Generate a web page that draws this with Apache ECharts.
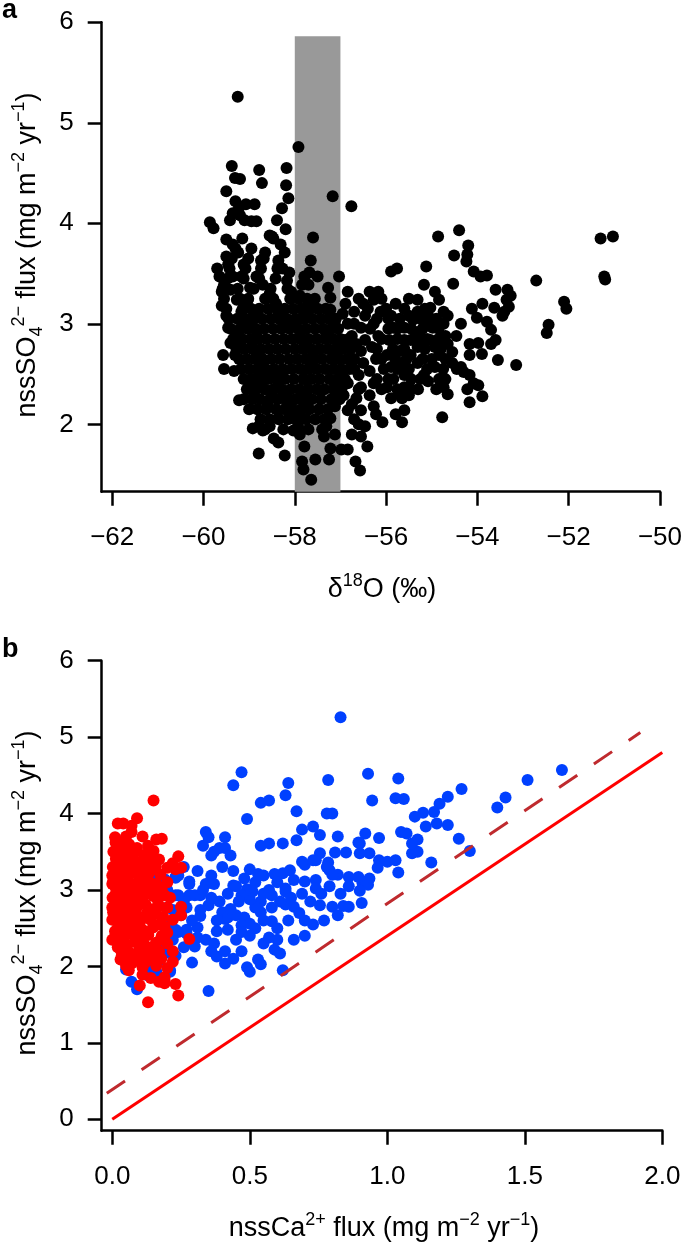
<!DOCTYPE html>
<html>
<head>
<meta charset="utf-8">
<script src="https://cdn.jsdelivr.net/npm/echarts@6/dist/echarts.min.js"></script>
<style>
  html, body { margin: 0; padding: 0; background: #fff; }
  #c { width: 685px; height: 1245px; }
</style>
</head>
<body>
<div id="c"></div>
<script>
// ---------------- DATA ----------------
// Panel a: delta18O (permil) vs nssSO4 flux
const aPoints = [
  [-59.25,5.26],[-57.92,4.76],[-57.17,4.27],[-56.76,4.17],[-57.6,3.86],
  [-59.86,4.01],[-59.78,3.95],[-59.38,4.57],[-59.31,4.45],[-59.2,4.44],[-59.5,4.32],
  [-58.78,4.53],[-58.72,4.40],[-58.18,4.55],[-58.19,4.38],[-58.14,4.25],
  [-58.28,4.15],[-58.39,4.03],[-58.2,3.94],
  [-59.3,4.22],[-59.22,4.16],[-59.07,4.19],[-59.2,4.08],[-59.1,4.03],[-58.88,4.19],[-58.84,4.02],[-58.95,4.02],
  [-59.36,4.1],[-59.42,4.03],[-58.55,3.88],[-58.47,3.85],[-59.5,3.84],[-59.15,3.85],
  // right branch
  [-54.86,3.87],[-54.4,3.93],[-54.2,3.78],[-54.22,3.69],[-54.24,3.62],[-54.51,3.68],
  [-51.3,3.85],[-51.03,3.87],[-51.22,3.47],[-51.2,3.44],[-52.71,3.43],[-52.1,3.22],[-52.05,3.15],
  [-52.44,2.99],[-52.48,2.91],[-53.15,2.59],[-53.55,2.64],[-53.89,2.28],[-54.17,2.22],[-54.77,2.07],
  [-55.89,3.52],[-55.76,3.55],[-55.12,3.57],[-55.17,3.39],[-55.31,3.24],[-54.53,3.40],
  [-54.08,3.52],[-53.93,3.47],[-53.79,3.48],[-53.6,3.34],[-53.34,3.34],[-53.27,3.28],[-53.36,3.24],
  [-53.89,3.2],[-53.63,3.16],[-53.41,3.12],[-53.31,3.17],[-54.12,3.15],[-53.45,3.08],
  [-54.01,3.06],[-53.79,3.02],[-53.7,2.94],[-53.6,2.84],[-53.7,2.8],[-53.9,2.7],[-53.98,2.81],
  [-54.17,2.8],[-54.17,2.69],[-54.36,3.0],[-54.46,2.88],
  [-54.55,2.61],[-54.36,2.57],[-54.17,2.49],[-54.08,2.41],[-53.98,2.39],[-54.22,2.35],[-54.3,2.52],[-54.45,2.55],
  [-54.93,3.32],[-54.84,3.24],[-54.74,3.12],[-54.65,3.08],[-54.74,3.0],[-54.7,2.88],[-54.65,2.8],[-54.55,2.72],
  [-55.03,3.16],[-55.08,3.08],[-54.98,2.96],[-55.03,2.84],[-54.93,2.77],[-54.84,2.69],[-54.93,2.57],
  [-54.84,2.45],[-54.74,2.37],[-54.65,2.3],
  [-55.31,3.12],[-55.41,3.04],[-55.36,2.92],[-55.46,2.84],[-55.31,2.77],[-55.46,2.69],[-55.31,2.61],
  [-55.17,2.49],[-55.08,2.43],[-55.2,3.08],[-55.1,3.02],[-55.2,2.95],[-55.3,2.9],
  [-55.5,3.08],[-55.6,2.96],[-55.6,2.84],[-55.7,2.73],[-55.65,2.61],[-55.6,2.49],[-55.6,2.37],
  [-55.5,2.29],[-55.65,2.26],[-55.6,2.14],[-55.65,2.02],[-55.45,2.35],[-55.72,2.3],
  [-55.79,3.2],[-55.89,3.08],[-55.84,2.96],[-55.93,2.84],[-55.98,2.69],[-55.89,2.57],[-55.84,2.45],
  [-55.98,2.37],[-55.89,2.26],[-55.79,2.1],[-56.08,2.02],
  [-56.17,3.32],[-56.27,3.24],[-56.12,3.12],[-56.27,3.0],[-56.17,2.88],[-56.31,2.77],[-56.22,2.65],
  [-56.36,2.53],[-56.27,2.41],[-56.36,2.29],[-56.27,2.18],[-56.22,2.1],
  [-56.36,3.32],[-56.5,3.2],[-56.46,3.08],[-56.55,2.96],[-56.46,2.84],[-56.55,2.73],[-56.5,2.61],
  [-56.6,2.49],[-56.55,2.37],[-56.65,2.26],[-56.55,2.14],[-56.46,1.98],[-56.41,1.78],
  [-56.6,2.0],[-56.55,1.88],[-56.67,1.63],[-56.57,1.54],
  [-56.84,3.32],[-56.89,3.2],[-56.7,3.12],[-56.84,3.0],[-56.75,2.88],[-56.89,2.77],[-56.79,2.65],
  [-56.93,2.53],[-56.84,2.41],[-56.93,2.29],[-56.84,2.14],[-56.75,1.9],[-56.84,1.75],[-56.98,1.75],[-57.12,1.9],
  [-56.93,2.84],[-57.03,2.77],[-57.12,2.65],[-57.03,2.53],[-57.12,2.41],[-57.03,2.29],[-57.12,2.18],
  [-57.22,2.06],[-57.31,1.98],[-57.36,1.88],[-57.22,1.76],[-57.25,1.65],
  [-57.03,3.47],[-57.27,3.36],[-57.22,3.26],[-57.12,3.03],[-57.31,2.88],[-57.22,3.14],
  [-57.55,1.65],[-57.84,1.63],[-57.81,1.55],[-57.64,1.45],
  [-57.65,3.63],[-57.68,3.51],[-57.79,3.47],
  // extra right-branch mesh
  [-56.1,2.35],[-55.75,2.35],[-55.3,2.35],[-54.9,2.35],
  [-56.2,2.45],[-55.95,2.45],[-55.45,2.45],[-55.25,2.45],[-54.7,2.45],
  [-56.05,2.55],[-55.75,2.55],[-55.5,2.55],[-55.1,2.55],[-54.75,2.55],
  [-56.1,2.65],[-55.8,2.65],[-55.55,2.65],[-55.2,2.65],[-55.0,2.65],[-54.7,2.65],
  [-56.2,2.75],[-55.85,2.75],[-55.6,2.75],[-55.15,2.75],[-54.8,2.75],
  [-56.1,2.85],[-55.75,2.85],[-55.25,2.85],[-55.1,2.85],[-54.85,2.85],
  [-56.35,2.95],[-55.95,2.95],[-55.75,2.95],[-55.45,2.95],[-54.85,2.95],
  [-56.2,3.05],[-55.95,3.05],[-55.7,3.05],[-55.25,3.05],[-54.9,3.05],
  [-56.4,3.15],[-56.0,3.15],[-55.6,3.15],[-55.15,3.15],
  [-56.6,3.25],[-56.1,3.25],[-55.5,3.25],
  [-56.7,2.55],[-56.65,2.8],[-56.7,3.0],[-56.95,3.1],[-56.6,2.35],[-56.75,2.2],[-56.7,2.05],
  // left branch and core
  [-59.70,3.55],[-59.65,3.47],[-59.60,3.32],[-59.60,3.18],[-59.50,3.08],[-59.46,2.96],[-59.41,2.81],
  [-59.31,2.69],[-59.57,2.69],[-59.55,2.55],[-59.27,2.81],[-59.22,2.92],[-59.55,3.39],[-59.50,3.67],
  [-59.46,3.59],[-59.36,3.47],[-59.41,3.34],[-59.27,3.24],[-59.17,3.12],[-59.12,3.00],[-59.36,3.79],
  [-59.24,3.71],[-59.12,3.59],[-59.17,3.47],[-58.98,3.36],[-59.03,3.24],[-58.89,3.12],[-58.98,3.00],
  [-58.84,2.88],[-58.93,2.77],[-58.84,2.67],[-58.70,2.59],[-58.79,2.49],[-58.74,2.37],[-58.89,2.29],
  [-58.79,1.98],[-58.70,1.94],[-58.55,1.98],[-58.46,1.86],[-58.36,1.82],[-58.22,1.69],[-58.79,1.71],
  [-58.36,2.06],[-58.60,2.18],[-58.50,2.29],[-58.36,2.41],[-58.65,2.45],[-58.50,2.53],[-58.27,2.49],
  [-58.17,2.33],[-58.17,2.18],[-58.08,2.06],[-58.03,1.94],[-57.89,1.90],[-57.79,1.78],[-57.93,1.98],
  [-57.89,2.10],[-57.79,2.22],[-57.74,2.33],[-57.79,2.45],[-57.65,2.57],[-57.60,2.69],[-57.79,2.77],
  [-57.89,2.88],[-57.98,3.00],[-57.79,3.08],[-57.70,3.20],[-57.89,3.28],[-58.08,3.32],[-58.17,3.43],
  [-58.12,3.51],[-58.27,3.55],[-58.36,3.63],[-58.22,3.71],[-58.31,3.79],[-58.50,3.87],[-58.65,3.71],
  [-58.74,3.63],[-58.84,3.47],[-58.70,3.39],[-58.55,3.30],[-58.41,3.20],[-58.36,3.08],[-58.27,2.96],
  [-57.50,3.47],[-57.70,3.39],[-57.84,3.39],
  [-59.22,2.24],[-59.33,2.53],[-59.24,2.78],[-58.9,2.4],[-58.92,1.96],
  // dense core fill
  [-59.0,2.15],[-58.82,2.15],[-58.63,2.15],[-58.41,2.15],[-58.22,2.15],[-58.05,2.15],[-57.86,2.15],[-57.68,2.15],[-57.47,2.15],[-57.28,2.15],
  [-59.12,2.25],[-58.93,2.25],[-58.76,2.25],[-58.55,2.25],[-58.37,2.25],[-58.19,2.25],[-57.99,2.25],[-57.82,2.25],[-57.63,2.25],[-57.43,2.25],[-57.2,2.25],[-57.02,2.25],
  [-59.05,2.35],[-58.86,2.35],[-58.66,2.35],[-58.47,2.35],[-58.29,2.35],[-58.09,2.35],[-57.9,2.35],[-57.71,2.35],[-57.52,2.35],[-57.35,2.35],[-57.15,2.35],[-56.98,2.35],
  [-59.12,2.45],[-58.97,2.45],[-58.76,2.45],[-58.58,2.45],[-58.4,2.45],[-58.21,2.45],[-58.02,2.45],[-57.82,2.45],[-57.63,2.45],[-57.45,2.45],[-57.24,2.45],[-57.06,2.45],[-56.9,2.45],
  [-59.18,2.55],[-59.0,2.55],[-58.82,2.55],[-58.64,2.55],[-58.45,2.55],[-58.26,2.55],[-58.07,2.55],[-57.88,2.55],[-57.7,2.55],[-57.52,2.55],[-57.33,2.55],[-57.15,2.55],[-56.98,2.55],[-56.8,2.55],
  [-59.22,2.65],[-59.05,2.65],[-58.88,2.65],[-58.7,2.65],[-58.51,2.65],[-58.33,2.65],[-58.13,2.65],[-57.95,2.65],[-57.76,2.65],[-57.58,2.65],[-57.4,2.65],[-57.2,2.65],[-57.03,2.65],[-56.86,2.65],[-56.7,2.65],
  [-59.28,2.75],[-59.1,2.75],[-58.92,2.75],[-58.74,2.75],[-58.56,2.75],[-58.38,2.75],[-58.2,2.75],[-58.0,2.75],[-57.82,2.75],[-57.64,2.75],[-57.45,2.75],[-57.27,2.75],[-57.1,2.75],[-56.95,2.75],[-56.78,2.75],
  [-59.35,2.85],[-59.15,2.85],[-58.97,2.85],[-58.8,2.85],[-58.62,2.85],[-58.43,2.85],[-58.24,2.85],[-58.06,2.85],[-57.88,2.85],[-57.7,2.85],[-57.52,2.85],[-57.33,2.85],[-57.16,2.85],[-57.0,2.85],[-56.82,2.85],
  [-59.4,2.95],[-59.2,2.95],[-59.03,2.95],[-58.85,2.95],[-58.67,2.95],[-58.48,2.95],[-58.3,2.95],[-58.12,2.95],[-57.93,2.95],[-57.75,2.95],[-57.56,2.95],[-57.38,2.95],[-57.2,2.95],[-57.05,2.95],
  [-59.45,3.05],[-59.26,3.05],[-59.08,3.05],[-58.9,3.05],[-58.72,3.05],[-58.53,3.05],[-58.35,3.05],[-58.17,3.05],[-57.98,3.05],[-57.8,3.05],[-57.62,3.05],[-57.43,3.05],[-57.26,3.05],[-57.1,3.05],
  [-59.5,3.15],[-59.14,3.15],[-58.96,3.15],[-58.78,3.15],[-58.59,3.15],[-58.4,3.15],[-58.22,3.15],[-58.04,3.15],[-57.86,3.15],[-57.67,3.15],[-57.5,3.15],[-57.32,3.15],
  [-59.55,3.25],[-59.2,3.25],[-59.02,3.25],[-58.65,3.25],[-58.47,3.25],[-58.1,3.25],[-57.92,3.25],[-57.73,3.25],[-57.56,3.25],
  [-59.58,3.35],[-59.25,3.35],[-58.9,3.35],[-58.53,3.35],[-58.16,3.35],
  [-59.47,3.45],[-59.12,3.45],[-58.78,3.45],[-58.42,3.45],
  [-59.43,3.55],[-59.08,3.55],[-58.74,3.55],[-58.38,3.55],
  [-59.38,3.65],[-59.02,3.65],[-58.68,3.65],
  [-59.3,3.75],[-58.95,3.75],
  [-58.75,2.05],[-58.55,2.05],[-58.35,2.05],[-58.15,2.05],[-57.95,2.05],[-57.75,2.05],[-57.55,2.05],[-57.35,2.05],
  [-58.65,1.95],[-58.25,1.95],[-57.7,1.95],[-57.4,1.95]
];
// gray band: delta18O from -58 to -57, top of band
const bandA = [[-58, -57, 5.86]];

// Panel b: nssCa flux vs nssSO4 flux
const bBlue = [
  [0.83,5.26],[0.47,4.54],[0.44,4.37],[0.64,4.40],[0.63,4.24],[0.54,4.14],[0.57,4.17],[0.67,4.03],
  [0.49,3.93],[0.785,4.44],[0.93,4.52],[0.945,4.17],[1.04,4.46],[1.03,4.20],[1.06,4.19],[1.27,4.32],
  [1.22,4.22],[1.19,4.13],[1.17,4.02],[1.13,4.01],[1.10,3.96],[1.14,3.83],[1.18,3.87],[1.22,3.85],
  [1.26,3.67],[1.30,3.51],[1.16,3.36],[1.04,3.23],[1.40,4.08],[1.43,4.21],[1.51,4.44],[1.635,4.57],
  [0.78,4.0],[0.80,4.0],[0.73,3.83],[0.69,3.79],[0.755,3.72],[0.62,3.61],[0.67,3.65],[0.57,3.61],
  [0.54,3.58],[0.82,3.70],[0.92,3.74],[0.97,3.68],[1.05,3.76],[1.07,3.74],[1.11,3.66],[1.11,3.50],
  [1.09,3.48],[1.09,3.61],[0.90,3.48],[0.935,3.48],[0.895,3.62],[0.90,3.61],[0.81,3.49],[0.85,3.49],
  [0.755,3.48],[0.74,3.39],[0.785,3.36],[0.70,3.33],[0.69,3.37],[0.73,3.39],[0.79,3.26],[0.97,3.39],
  [1.00,3.37],[1.03,3.39],[0.965,3.29],[0.935,3.15],[0.91,3.09],[0.93,3.07],[0.90,2.99],[0.86,3.17],
  [0.895,3.17],[0.82,3.20],[0.80,3.20],[0.78,3.30],[0.62,3.22],[0.646,3.26],[0.66,3.13],[0.70,3.11],
  [0.74,3.13],[0.74,3.02],[0.63,3.02],[0.907,2.83],[0.755,2.80],[0.80,2.78],[0.84,2.79],[0.86,2.78],
  [0.82,2.67],[0.77,2.60],[0.73,2.55],[0.70,2.60],[0.70,2.40],[0.66,2.35],[0.66,2.78],[0.63,2.98],
  [0.63,2.81],[0.61,2.85],[0.58,2.93],[0.58,2.77],[0.54,2.71],[0.58,2.59],[0.54,2.85],[0.52,2.77],
  [0.50,2.88],[0.51,2.98],[0.49,3.01],[0.47,2.93],[0.46,2.85],[0.50,3.27],[0.53,3.21],[0.55,3.19],
  [0.59,3.21],[0.48,2.64],[0.50,2.56],[0.47,2.54],[0.57,2.38],[0.59,2.22],[0.61,2.17],[0.49,1.99],
  [0.50,1.93],[0.53,2.09],[0.54,2.03],[0.62,1.95],[0.44,3.06],[0.34,3.08],[0.35,2.80],[0.32,2.66],
  [0.31,2.51],[0.31,2.38],[0.30,2.26],[0.38,2.46],[0.40,2.71],[0.41,2.62],[0.42,2.64],[0.45,2.67],
  [0.42,2.48],[0.45,2.35],[0.41,2.20],[0.41,2.04],[0.38,2.13],[0.35,1.68],[0.36,3.19],[0.37,3.08],
  [0.34,3.76],[0.35,3.69],[0.33,3.58],[0.37,3.50],[0.36,3.45],[0.39,3.55],[0.41,3.69],[0.41,3.55],
  [0.43,3.45],[0.28,3.08],[0.28,2.93],[0.23,2.93],[0.23,3.16],[0.24,3.19],[0.26,2.85],[0.27,2.77],
  [0.30,2.93],[0.32,2.93],[0.24,2.45],[0.27,2.43],[0.22,2.35],[0.19,2.17],[0.21,1.93],[0.16,1.93],
  [0.13,1.88],[0.09,1.70],[0.05,1.96],[0.23,2.14],[0.20,2.77],[0.19,2.99],[0.19,3.14],[0.15,3.14],
  [0.20,2.56],[0.14,1.93],[0.21,1.95],[0.17,2.08],[0.17,2.26],[0.22,2.17],[0.23,2.48],[0.27,2.48],
  [0.25,2.67],[0.22,2.74],[0.20,3.0],[0.24,2.93],[0.28,3.11],[0.23,3.17],[0.18,3.13],[0.32,2.74],
  [0.07,1.80],[0.12,2.0],
  [0.33,3.0],[0.36,2.9],[0.39,2.85],[0.42,2.95],[0.45,3.05],[0.38,2.6],[0.43,2.75],[0.47,2.45],
  [0.52,2.5],[0.55,2.6],[0.6,2.5],[0.64,2.6],[0.68,2.7],[0.57,3.0],[0.6,3.1],[0.65,2.9],[0.69,2.95],
  [0.72,2.85],[0.76,2.95],[0.79,3.05],[0.83,2.95],[0.86,3.05],[0.55,2.95],[0.52,3.1],[0.48,3.15],
  [0.4,3.3],[0.44,3.25],[0.31,3.25],[0.26,3.3],[0.29,2.6],[0.26,2.25],[0.29,2.05],[0.34,2.35],
  [0.37,2.3],[0.44,2.1],[0.47,2.2],[0.55,2.3],[0.6,2.35],[0.5,2.4],[0.36,2.2]
];
const bRed = [
  [0.15,4.17],[0.02,3.87],[0.04,3.87],[0.07,3.84],[0.09,3.94],[0.07,3.76],[0.18,3.67],[0.16,3.66],
  [0.13,3.58],[0.15,3.51],[0.17,3.40],[0.24,3.44],[0.25,3.29],[0.23,3.27],[0.20,3.29],[0.15,3.27],
  [0.12,3.19],[0.16,3.08],[0.19,2.93],[0.20,2.77],[0.25,2.78],[0.25,2.67],[0.22,2.61],[0.19,2.52],
  [0.28,2.36],[0.18,2.40],[0.22,2.20],[0.22,2.06],[0.16,2.01],[0.15,2.17],[0.11,1.99],[0.07,2.04],
  [0.05,2.01],[0.09,2.12],[0.17,1.80],[0.19,1.78],[0.19,1.86],[0.23,1.77],[0.24,1.62],[0.10,1.75],
  [0.11,1.89],[0.13,1.53],[0.01,3.69],[0.01,3.51],[0.03,3.61],[0.00,3.19],[0.00,3.08],[0.01,2.93],
  [0.00,2.77],[0.00,2.61],[0.01,2.46],[0.00,2.35],[0.02,2.25],[0.03,2.09],[0.20,2.44],[0.155,2.06],
  [0.076,2.06],[0.19,1.82],
  [0.012,3.62],[0.034,3.58],[0.061,3.6],
  [0.004,3.5],[0.022,3.47],[0.048,3.52],[0.081,3.49],[0.118,3.46],
  [0.013,3.41],[0.041,3.38],[0.069,3.42],[0.102,3.37],[0.138,3.4],
  [0.002,3.3],[0.028,3.32],[0.058,3.28],[0.092,3.31],[0.121,3.27],[0.158,3.31],
  [0.011,3.21],[0.039,3.19],[0.071,3.22],[0.098,3.18],[0.132,3.21],
  [0.003,3.11],[0.027,3.09],[0.052,3.12],[0.083,3.08],[0.112,3.11],[0.141,3.09],
  [0.014,3.01],[0.044,2.98],[0.072,3.02],[0.101,2.99],[0.129,3.03],[0.162,2.99],
  [0.001,2.9],[0.022,2.92],[0.053,2.88],[0.079,2.91],[0.108,2.89],[0.149,2.92],
  [0.012,2.81],[0.038,2.79],[0.063,2.82],[0.091,2.78],[0.121,2.81],[0.171,2.79],
  [0.003,2.71],[0.031,2.69],[0.059,2.72],[0.088,2.68],[0.128,2.71],[0.158,2.69],
  [0.014,2.61],[0.042,2.59],[0.068,2.62],[0.101,2.58],[0.139,2.61],
  [0.021,2.51],[0.049,2.49],[0.078,2.52],[0.109,2.48],[0.148,2.51],
  [0.012,2.41],[0.039,2.39],[0.071,2.42],[0.098,2.38],[0.131,2.41],
  [0.023,2.31],[0.051,2.29],[0.082,2.32],[0.118,2.28],[0.159,2.31],
  [0.032,2.21],[0.061,2.19],[0.099,2.22],[0.138,2.18],
  [0.052,2.11],[0.088,2.09],[0.128,2.12],[0.178,2.1],
  [0.145,3.45],[0.175,3.2],[0.18,3.0],[0.165,2.87],[0.185,2.65],[0.17,2.55],[0.175,2.35],[0.12,2.05],
  [0.03,3.25],[0.06,3.36],[0.09,3.55],[0.11,3.7],[0.05,3.7],[0.125,3.35],[0.105,3.13],[0.135,2.95],
  [0.09,2.85],[0.15,2.75],[0.115,2.65],[0.06,2.55],[0.125,2.45],[0.085,2.35],[0.145,2.25],[0.035,2.15],
  [0.1,2.2],[0.02,2.85],[0.045,2.65],[0.025,3.15],[0.2,2.3],[0.21,2.9],[0.2,3.1],[0.22,3.35],
  [0.17,2.2],[0.06,1.95],[0.14,1.85],[0.2,1.98]
];
// reference lines
const gypsumLine = [[0, 0], [2.0, 4.8]];
const dashedLine = [[-0.02, 0.34], [1.92, 5.06]];

// ticks
const aXTicks = [-62, -60, -58, -56, -54, -52, -50];
const aYTicks = [2, 3, 4, 5, 6];
const bXTicks = [0, 0.5, 1.0, 1.5, 2.0];
const bYTicks = [0, 1, 2, 3, 4, 5, 6];

// axis extents (as drawn)
const aXRange = [-62.23, -50];
const aYRange = [1.33, 6];
const bXRange = [-0.0385, 2];
const bYRange = [-0.149, 6];

// ---------------- CHART ----------------
const FONT = "'Liberation Sans', Arial, Helvetica, sans-serif";
const AX = 2.5;
const minus = v => (v < 0 ? '\u2212' : '') + Math.abs(v);

function xAxisCfg(grid, range, ticks, fmt) {
  return {
    gridIndex: grid, type: 'value', min: range[0], max: range[1],
    axisLine: { show: true, onZero: false, lineStyle: { color: '#000', width: AX } },
    axisTick: { show: true, customValues: ticks, length: 14, inside: false, lineStyle: { color: '#000', width: AX } },
    axisLabel: { customValues: ticks, formatter: fmt, fontSize: 26, fontFamily: FONT, color: '#000', margin: 33 },
    splitLine: { show: false }
  };
}
function yAxisCfg(grid, range, ticks) {
  return {
    gridIndex: grid, type: 'value', min: range[0], max: range[1],
    axisLine: { show: true, onZero: false, lineStyle: { color: '#000', width: AX } },
    axisTick: { show: true, customValues: ticks, length: 14, inside: false, lineStyle: { color: '#000', width: AX } },
    axisLabel: { customValues: ticks, formatter: v => String(v), fontSize: 26, fontFamily: FONT, color: '#000', margin: 28 },
    splitLine: { show: false }
  };
}

const richStyles = {
  sup: { fontSize: 18, fontFamily: FONT, fill: '#000', verticalAlign: 'top', lineHeight: 18 },
  sub: { fontSize: 18, fontFamily: FONT, fill: '#000', verticalAlign: 'bottom', lineHeight: 18 }
};
function titleText(text, x, y, rot) {
  return {
    type: 'text', x: x, y: y, rotation: rot || 0, z: 100,
    style: {
      text: text, fill: '#000', fontSize: 27, fontFamily: FONT, lineHeight: 36,
      align: 'center', verticalAlign: 'middle', rich: richStyles
    }
  };
}

const chart = echarts.init(document.getElementById('c'), null, { renderer: 'canvas' });
chart.setOption({
  animation: false,
  backgroundColor: '#fff',
  grid: [
    { left: 101.7, top: 22.3, width: 560.6, height: 469.4 },
    { left: 101.7, top: 660.7, width: 560.6, height: 470 }
  ],
  xAxis: [
    xAxisCfg(0, aXRange, aXTicks, minus),
    xAxisCfg(1, bXRange, bXTicks, v => v.toFixed(1))
  ],
  yAxis: [
    yAxisCfg(0, aYRange, aYTicks),
    yAxisCfg(1, bYRange, bYTicks)
  ],
  series: [
    {
      type: 'custom', xAxisIndex: 0, yAxisIndex: 0, z: 1, silent: true,
      data: bandA,
      renderItem: (params, api) => {
        const p1 = api.coord([api.value(0), api.value(2)]);
        const p2 = api.coord([api.value(1), aYRange[0]]);
        return { type: 'rect', shape: { x: p1[0], y: p1[1], width: p2[0] - p1[0], height: p2[1] - p1[1] },
                 style: { fill: '#999999' } };
      }
    },
    { type: 'scatter', xAxisIndex: 0, yAxisIndex: 0, z: 2, data: aPoints, symbolSize: 12,
      itemStyle: { color: '#000', opacity: 1 } },
    { type: 'scatter', xAxisIndex: 1, yAxisIndex: 1, z: 2, data: bBlue, symbolSize: 12,
      itemStyle: { color: '#0040ff', opacity: 1 } },
    { type: 'scatter', xAxisIndex: 1, yAxisIndex: 1, z: 3, data: bRed, symbolSize: 12,
      itemStyle: { color: '#ff0000', opacity: 1 } },
    { type: 'line', xAxisIndex: 1, yAxisIndex: 1, z: 4, data: gypsumLine, showSymbol: false, symbol: 'none',
      lineStyle: { color: '#ff0000', width: 3 } },
    { type: 'line', xAxisIndex: 1, yAxisIndex: 1, z: 4, data: dashedLine, showSymbol: false, symbol: 'none',
      lineStyle: { color: '#bf2a2e', width: 3, type: [22, 20] } }
  ],
  graphic: [
    { type: 'text', x: 2, y: -3, style: { text: 'a', fontSize: 27, fontWeight: 'bold', fontFamily: FONT, fill: '#000' } },
    { type: 'text', x: 2, y: 636, style: { text: 'b', fontSize: 27, fontWeight: 'bold', fontFamily: FONT, fill: '#000' } },
    titleText('nssSO{sub|4}{sup|2\u2212} flux (mg m{sup|\u22122} yr{sup|\u22121})', 28, 255, Math.PI / 2),
    titleText('\u03b4{sup|18}O (\u2030)', 382, 590, 0),
    titleText('nssSO{sub|4}{sup|2\u2212} flux (mg m{sup|\u22122} yr{sup|\u22121})', 28, 893, Math.PI / 2),
    titleText('nssCa{sup|2+} flux (mg m{sup|\u22122} yr{sup|\u22121})', 384, 1229, 0)
  ]
});
</script>
</body>
</html>
